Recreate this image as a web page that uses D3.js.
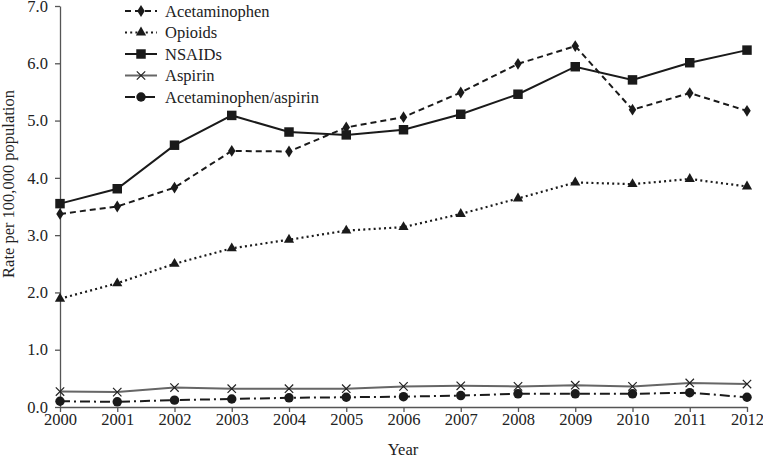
<!DOCTYPE html>
<html><head><meta charset="utf-8">
<script src="https://cdn.jsdelivr.net/npm/d3@7"></script>
<style>body{margin:0;background:#fff}svg{display:block}</style>
</head><body><svg id="c" width="763" height="460"></svg>
<script>
const years = [2000,2001,2002,2003,2004,2005,2006,2007,2008,2009,2010,2011,2012];
const acetaminophen = [3.37,3.50,3.83,4.47,4.46,4.88,5.06,5.49,5.99,6.30,5.19,5.48,5.17];
const opioids = [1.89,2.16,2.50,2.77,2.92,3.08,3.14,3.37,3.64,3.92,3.89,3.98,3.85];
const nsaids = [3.55,3.81,4.57,5.09,4.80,4.75,4.84,5.11,5.46,5.94,5.71,6.01,6.23];
const aspirin = [0.27,0.26,0.34,0.32,0.32,0.32,0.36,0.37,0.36,0.38,0.36,0.42,0.40];
const acetAspirin = [0.10,0.09,0.12,0.14,0.16,0.17,0.18,0.20,0.23,0.23,0.23,0.25,0.17];
const seriesNames = ["Acetaminophen","Opioids","NSAIDs","Aspirin","Acetaminophen/aspirin"];
const yTicks = [0,1,2,3,4,5,6,7];

const series = [
  {name:seriesNames[0], values:acetaminophen, dash:"6,4", color:"#1a1a1a", width:2, sym:d3.symbolDiamond, size:40},
  {name:seriesNames[1], values:opioids, dash:"2,3.2", color:"#1a1a1a", width:2.2, sym:d3.symbolTriangle, size:45},
  {name:seriesNames[2], values:nsaids, dash:null, color:"#1a1a1a", width:2, sym:d3.symbolSquare, size:90},
  {name:seriesNames[3], values:aspirin, dash:null, color:"#666", width:2, sym:d3.symbolCross, size:0},
  {name:seriesNames[4], values:acetAspirin, dash:"10,4,2,4", color:"#1a1a1a", width:2, sym:d3.symbolCircle, size:70}
];

const svg = d3.select("#c");
const x = d3.scaleLinear().domain([2000,2012]).range([60,747]);
const y = d3.scaleLinear().domain([0,7]).range([407,6]);
const font = "'Liberation Serif','Times New Roman',serif";
const fs = 16.5;

const gx = svg.append("g").attr("transform","translate(0,407)")
  .call(d3.axisBottom(x).tickValues(years).tickFormat(d3.format("d")).tickSize(5).tickSizeOuter(0));
const gy = svg.append("g").attr("transform","translate(60,0)")
  .call(d3.axisLeft(y).tickValues(yTicks).tickFormat(d3.format(".1f")).tickSize(5).tickSizeOuter(0));
[gx,gy].forEach(g=>{
  g.selectAll("path,line").attr("stroke","#555").attr("stroke-width",1.3);
  g.selectAll("text").attr("font-family",font).attr("font-size",fs).attr("fill","#222");
});
gx.selectAll("text").attr("dy","0.62em");
gy.selectAll("text").attr("dx","-0.25em");

svg.append("text").attr("x",403).attr("y",455).attr("text-anchor","middle")
  .attr("font-family",font).attr("font-size",fs).attr("fill","#222").text("Year");
svg.append("text").attr("transform","translate(14,184) rotate(-90)").attr("text-anchor","middle")
  .attr("font-family",font).attr("font-size",fs).attr("fill","#222").text("Rate per 100,000 population");

const line = d3.line().x((d,i)=>x(years[i])).y(d=>y(d));

function drawMarker(g, s, cx, cy){
  if(s.name==="Aspirin"){
    const r=4.2;
    g.append("path").attr("d",`M${cx-r},${cy-r}L${cx+r},${cy+r}M${cx-r},${cy+r}L${cx+r},${cy-r}`)
      .attr("stroke","#222").attr("stroke-width",1.2).attr("fill","none");
  } else {
    g.append("path").attr("d",d3.symbol().type(s.sym).size(s.size)())
      .attr("transform",`translate(${cx},${cy})${s.sym===d3.symbolDiamond?" scale(1.1,1)":""}`)
      .attr("fill","#1a1a1a");
  }
}

series.forEach(s=>{
  const g = svg.append("g");
  g.append("path").datum(s.values).attr("d",line).attr("fill","none")
    .attr("stroke",s.color).attr("stroke-width",s.width)
    .attr("stroke-dasharray",s.dash);
  s.values.forEach((v,i)=>drawMarker(g,s,x(years[i]),y(v)));
});

// legend
const lg = svg.append("g");
series.forEach((s,i)=>{
  const ly = 11 + i*21.5;
  lg.append("line").attr("x1",125).attr("x2",157).attr("y1",ly).attr("y2",ly)
    .attr("stroke",s.color).attr("stroke-width",s.width).attr("stroke-dasharray",s.dash);
  drawMarker(lg,s,141,ly);
  lg.append("text").attr("x",165).attr("y",ly).attr("dy","0.35em")
    .attr("font-family",font).attr("font-size",fs).attr("fill","#222").text(s.name);
});
</script></body></html>
